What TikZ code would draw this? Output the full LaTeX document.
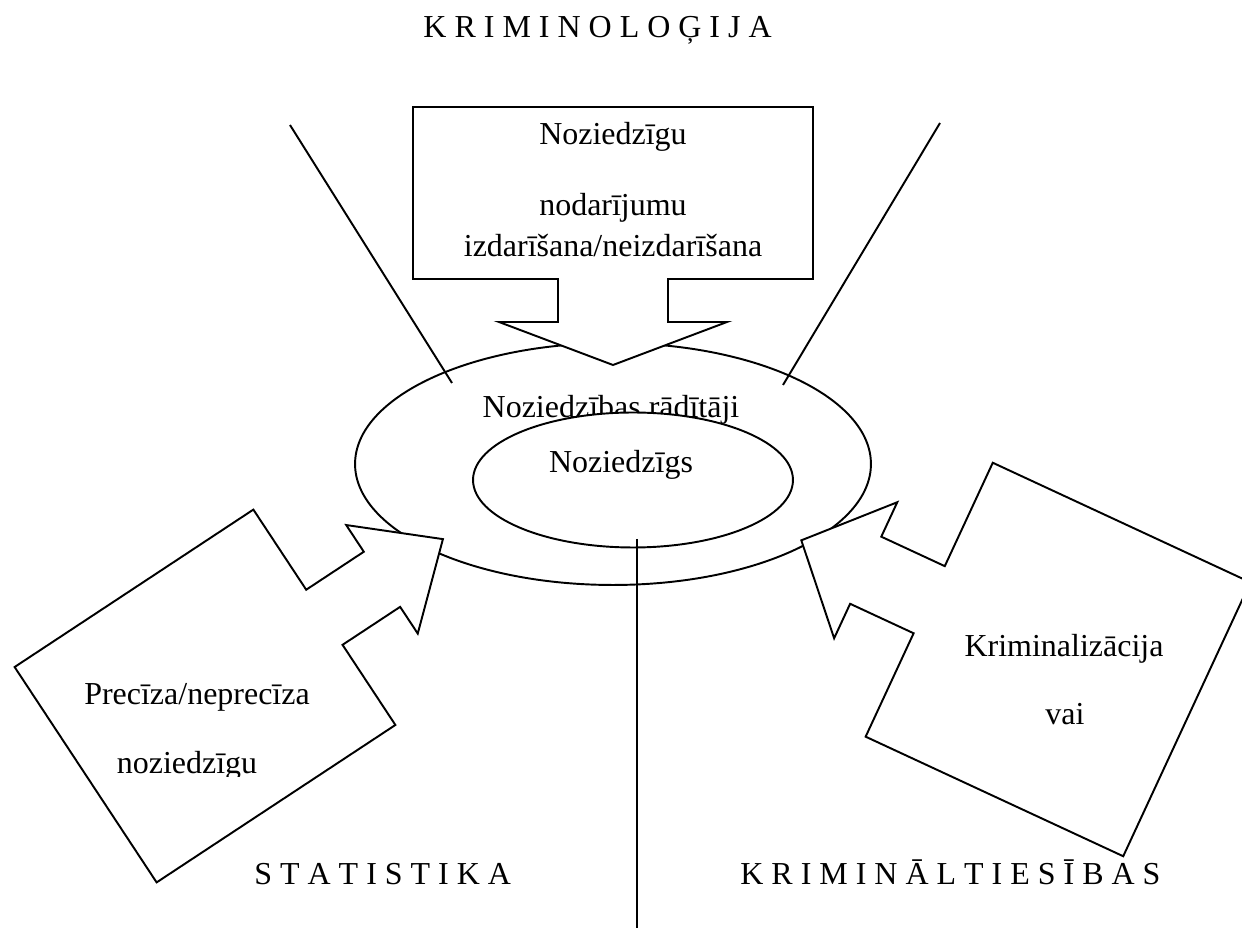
\documentclass[tikz,border=0pt]{standalone}
\usepackage{fontspec}
\setmainfont{Liberation Serif}
\usetikzlibrary{shapes.geometric}

\tikzset{
  teksts/.style={inner sep=0pt, anchor=base, font=\fontsize{18.2}{22}\selectfont},
  figura/.style={draw, fill=white, line width=1.1pt, line join=miter},
  linija/.style={line width=1.1pt}
}

\begin{document}
\begin{tikzpicture}[x=0.02cm, y=-0.02cm]
\useasboundingbox (0,0) rectangle (1242,928);

% Elipses
\node (raditaji) [figura, ellipse, inner sep=0pt, minimum width=10.32cm, minimum height=4.84cm] at (613,464) {};
\node (raditaji_teksts) [teksts] at (611,418) {Noziedzības rādītāji};
\node (noziedzigs) [figura, ellipse, inner sep=0pt, minimum width=6.4cm, minimum height=2.7cm] at (633,480) {};
\node (noziedzigs_teksts) [teksts] at (621,473) {Noziedzīgs};

% Līnijas
\coordinate (vidus_augsa) at (637,539);
\coordinate (vidus_apaksa) at (637,928);
\draw[linija] (vidus_augsa) -- (vidus_apaksa);

\coordinate (kreisa_augsa) at (290,125);
\coordinate (kreisa_apaksa) at (452,383);
\draw[linija] (kreisa_augsa) -- (kreisa_apaksa);

\coordinate (laba_augsa) at (940,123);
\coordinate (laba_apaksa) at (783,385);
\draw[linija] (laba_augsa) -- (laba_apaksa);

% Bultas
\begin{scope}[shift={(613,193)}, rotate=-90]
\draw[figura] (-86,-200) -- (86,-200) -- (86,-55) -- (129,-55) -- (129,-114) -- (172,0) -- (129,114) -- (129,55) -- (86,55) -- (86,200) -- (-86,200) -- cycle;
\end{scope}

\begin{scope}[shift={(205,696)}, rotate=33.4]
\draw[figura] (-143,-129) -- (143,-129) -- (143,-33) -- (212,-33) -- (212,-65) -- (285,0) -- (212,65) -- (212,33) -- (143,33) -- (143,129) -- (-143,129) -- cycle;
\end{scope}

\begin{scope}[shift={(1058,659.5)}, rotate=155.1]
\draw[figura] (-142,-151) -- (142,-151) -- (142,-37) -- (212,-37) -- (212,-75) -- (283,0) -- (212,75) -- (212,37) -- (142,37) -- (142,151) -- (-142,151) -- cycle;
\end{scope}

% Teksti bultās
\node (nodarijumi1) [teksts] at (613,145) {Noziedzīgu};
\node (nodarijumi2) [teksts] at (613,216) {nodarījumu};
\node (nodarijumi3) [teksts] at (613,257) {izdarīšana/neizdarīšana};

\node (precizitate1) [teksts] at (197,705) {Precīza/neprecīza};
\begin{scope}
\clip (0,600) rectangle (460,777);
\node (precizitate2) [teksts] at (187,774) {noziedzīgu};
\end{scope}

\node (kriminalizacija1) [teksts] at (1064,657) {Kriminalizācija};
\node (kriminalizacija2) [teksts] at (1065,725) {vai};

% Nozares
\node (kriminologija) [teksts, anchor=base east] at (772,38) {K R I M I N O L O Ģ I J A};
\node (statistika) [teksts, anchor=base west] at (254,885) {S T A T I S T I K A};
\node (kriminaltiesibas) [teksts, anchor=base west] at (740,885) {K R I M I N Ā L T I E S Ī B A S};

\end{tikzpicture}
\end{document}
